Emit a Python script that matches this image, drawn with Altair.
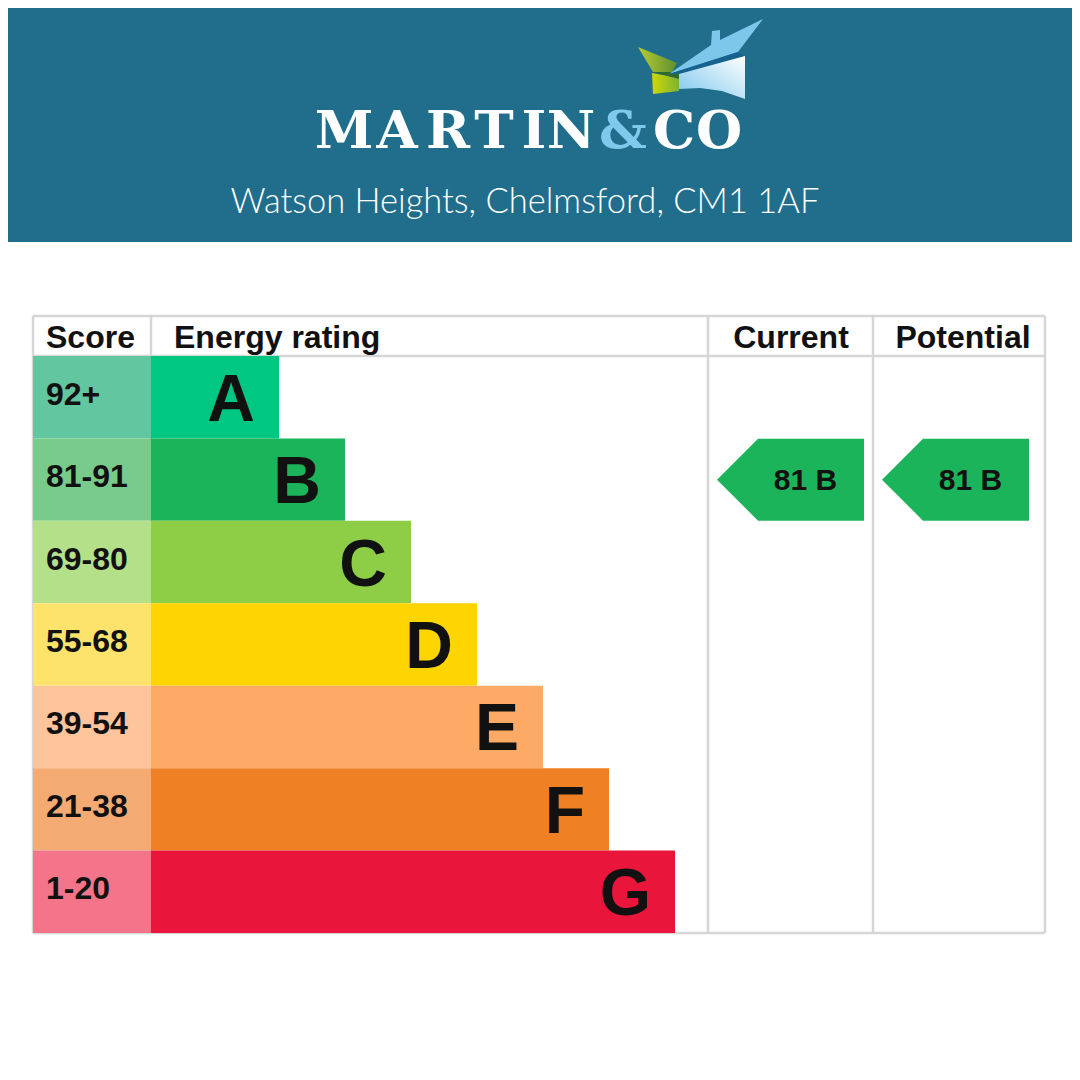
import altair as alt
import pandas as pd

# ---------------- data ----------------
ratings = ["A", "B", "C", "D", "E", "F", "G"]
score_ranges = ["92+", "81-91", "69-80", "55-68", "39-54", "21-38", "1-20"]
band_colors = ["#00c781", "#1bb45a", "#8dce46", "#ffd500", "#fcaa65", "#ef8023", "#e9153b"]
score_colors = ["#62c7a0", "#78cb8b", "#b4e08a", "#fde36b", "#fec49b", "#f4ab73", "#f4748a"]
header_labels = ["Score", "Energy rating", "Current", "Potential"]
assessments = ["Current", "Potential"]
assessment_scores = [81, 81]
assessment_bands = ["B", "B"]
brand_letters = ["M", "A", "R", "T", "I", "N", "&", "C", "O"]
brand_colors = ["#ffffff"] * 6 + ["#7fc9ec"] + ["#ffffff"] * 2
address = "Watson Heights, Chelmsford, CM1 1AF"

# ---------------- layout ----------------
OFF = 8            # page margin
VIEW_W = 1064
VIEW_H = 1060
HEADER_BAND = 242
TOP, HEAD_BOTTOM, BOTTOM = 316, 356, 933
LEFT, RIGHT = 33, 1045
COL_EDGES = [33, 151, 708, 873, 1045]
ROW_H = (BOTTOM - HEAD_BOTTOM) / len(ratings)
BAR_FIRST_END = 279
BAR_STEP = 66
GRID = "#d6d6d6"
BAND_BG = "#206e8c"
FONT = "Liberation Sans"

xs = alt.Scale(domain=[OFF, OFF + VIEW_W], nice=False, zero=False)
ys = alt.Scale(domain=[OFF, OFF + VIEW_H], nice=False, zero=False, reverse=True)


def X(f):
    return alt.X(f, type="quantitative", scale=xs, axis=None)


def Y(f):
    return alt.Y(f, type="quantitative", scale=ys, axis=None)


def row_top(i):
    return HEAD_BOTTOM + i * ROW_H


def row_mid(i):
    return HEAD_BOTTOM + (i + 0.5) * ROW_H


# ---------------- tables ----------------
rows = pd.DataFrame({
    "rating": ratings,
    "range": score_ranges,
    "band_color": band_colors,
    "score_color": score_colors,
})
rows["i"] = range(len(ratings))
rows["y0"] = rows["i"].map(row_top)
rows["y1"] = rows["i"].map(lambda i: row_top(i + 1))
rows["ym"] = rows["i"].map(row_mid)
rows["cell_x0"] = COL_EDGES[0]
rows["cell_x1"] = COL_EDGES[1]
rows["bar_end"] = BAR_FIRST_END + BAR_STEP * rows["i"]
rows["letter_x"] = rows["bar_end"] - 24
rows["letter_y"] = rows["ym"] + 23.5
rows["score_x"] = COL_EDGES[0] + 13
rows["score_y"] = rows["ym"] + 7.5

# background header band
band_df = pd.DataFrame({"x0": [0], "x1": [1100], "y0": [0], "y1": [HEADER_BAND]})
band = alt.Chart(band_df).mark_rect(color=BAND_BG).encode(
    x=X("x0"), x2="x1", y=Y("y0"), y2="y1")

# grid lines
hl = pd.DataFrame({"x0": [LEFT] * 3, "x1": [RIGHT] * 3, "y": [TOP, HEAD_BOTTOM, BOTTOM]})
vl = pd.DataFrame({"x": COL_EDGES, "y0": [TOP] * 5, "y1": [BOTTOM] * 5})
hlines = alt.Chart(hl).mark_rule(color=GRID, strokeWidth=2.5).encode(
    x=X("x0"), x2="x1", y=Y("y"))
vlines = alt.Chart(vl).mark_rule(color=GRID, strokeWidth=2.5).encode(
    x=X("x"), y=Y("y0"), y2="y1")

# score cells and bars
cells = alt.Chart(rows).mark_rect().encode(
    x=X("cell_x0"), x2="cell_x1", y=Y("y0"), y2="y1",
    color=alt.Color("score_color:N", scale=None))
bars = alt.Chart(rows).mark_rect().encode(
    x=X("cell_x1"), x2="bar_end", y=Y("y0"), y2="y1",
    color=alt.Color("band_color:N", scale=None))
letters = alt.Chart(rows).mark_text(
    font=FONT, fontWeight="bold", fontSize=66, align="right",
    baseline="alphabetic", color="#111111").encode(
    x=X("letter_x"), y=Y("letter_y"), text="rating:N")
scores = alt.Chart(rows).mark_text(
    font=FONT, fontWeight="bold", fontSize=32, align="left",
    baseline="alphabetic", color="#111111").encode(
    x=X("score_x"), y=Y("score_y"), text="range:N")

# column headers
head_df = pd.DataFrame({
    "label": header_labels,
    "x": [46, 174, 791, 963],
    "align": ["left", "left", "center", "center"],
})
head_df["y"] = 347.5
head_left = alt.Chart(head_df[head_df["align"] == "left"]).mark_text(
    font=FONT, fontWeight="bold", fontSize=32, align="left",
    baseline="alphabetic", color="#111111").encode(
    x=X("x"), y=Y("y"), text="label:N")
head_center = alt.Chart(head_df[head_df["align"] == "center"]).mark_text(
    font=FONT, fontWeight="bold", fontSize=32, align="center",
    baseline="alphabetic", color="#111111").encode(
    x=X("x"), y=Y("y"), text="label:N")

# current / potential tags
tag_df = pd.DataFrame({
    "col": assessments,
    "score": assessment_scores,
    "band": assessment_bands,
    "cx": [790.5, 955.5],
})
tag_df["row"] = tag_df["band"].map(lambda b: ratings.index(b))
tag_df["cy"] = tag_df["row"].map(row_mid)
tag_df["color"] = tag_df["row"].map(lambda r: band_colors[r])
tag_df["label"] = tag_df["score"].astype(str) + " " + tag_df["band"]
tag_df["tx"] = tag_df["cx"] + 15
tag_df["ty"] = tag_df["cy"] + 10.5
TAG_PATH = "M -73.5 0 L -32.5 -41 L 73.5 -41 L 73.5 41 L -32.5 41 Z"
tags = alt.Chart(tag_df).mark_point(
    shape=TAG_PATH, size=4, filled=True, opacity=1, strokeWidth=0).encode(
    x=X("cx"), y=Y("cy"), color=alt.Color("color:N", scale=None))
tag_text = alt.Chart(tag_df).mark_text(
    font=FONT, fontWeight="bold", fontSize=30, align="center",
    baseline="alphabetic", color="#111111").encode(
    x=X("tx"), y=Y("ty"), text="label:N")

# brand text
brand_df = pd.DataFrame({
    "ch": brand_letters,
    "color": brand_colors,
    "x": [344, 397, 448, 494, 534, 571, 623, 674, 719],
})
brand_df["y"] = 148
brand = alt.Chart(brand_df).mark_text(
    font="DejaVu Serif", fontWeight="bold", fontSize=53, align="center",
    baseline="alphabetic").encode(
    x=X("x"), y=Y("y"), text="ch:N", color=alt.Color("color:N", scale=None))

addr_df = pd.DataFrame({"t": [address], "x": [525], "y": [213]})
addr = alt.Chart(addr_df).mark_text(
    font="Lato", fontWeight=300, fontSize=34.5, align="center",
    baseline="alphabetic", color="#ffffff").encode(
    x=X("x"), y=Y("y"), text="t:N")

# logo (house mark) as custom symbol paths around a centre point
LOGO_C = (705, 60)


def poly_path(pts):
    cx, cy = LOGO_C
    parts = [f"{'M' if k == 0 else 'L'} {px - cx} {py - cy}" for k, (px, py) in enumerate(pts)]
    return " ".join(parts) + " Z"


logo_df = pd.DataFrame({"x": [LOGO_C[0]], "y": [LOGO_C[1]]})


def logo_piece(pts, fill):
    return alt.Chart(logo_df).mark_point(
        shape=poly_path(pts), size=4, filled=True, opacity=1, strokeWidth=0,
        fill=fill).encode(x=X("x"), y=Y("y"))


green_grad = alt.LinearGradient(
    gradient="linear", x1=0, y1=0, x2=1, y2=0,
    stops=[alt.GradientStop(color="#b7cc36", offset=0),
           alt.GradientStop(color="#5f8f2c", offset=1)])
block_grad = alt.LinearGradient(
    gradient="linear", x1=0, y1=0, x2=1, y2=0,
    stops=[alt.GradientStop(color="#cfd800", offset=0),
           alt.GradientStop(color="#7fb23a", offset=1)])
wall_grad = alt.LinearGradient(
    gradient="linear", x1=0, y1=1, x2=1, y2=0,
    stops=[alt.GradientStop(color="#7cc6ec", offset=0),
           alt.GradientStop(color="#ffffff", offset=1)])

logo = [
    logo_piece([(638, 47), (677, 63), (672, 72), (653, 72)], green_grad),
    logo_piece([(652, 73), (679, 78), (679, 91), (653, 94)], block_grad),
    logo_piece([(653, 72), (672, 72), (679, 73), (679, 79)], "#2f6b2a"),
    logo_piece([(669, 74), (711, 45), (712, 31), (720, 30), (720, 40), (763, 19), (738, 52)], "#7dc7eb"),
    logo_piece([(669, 74), (738, 52), (745, 56), (681, 74)], "#17628f"),
    logo_piece([(679, 74), (745, 56), (745, 99), (722, 91), (700, 88), (679, 89)], wall_grad),
]

chart = alt.layer(
    band, *logo, brand, addr,
    hlines, vlines, cells, bars, letters, scores,
    head_left, head_center, tags, tag_text,
).properties(
    width=VIEW_W, height=VIEW_H, padding=0,
    autosize=alt.AutoSizeParams(type="none"),
    background="#ffffff",
).configure_view(stroke=None)

chart.save("out.html", embed_options={"renderer": "svg", "actions": False})
